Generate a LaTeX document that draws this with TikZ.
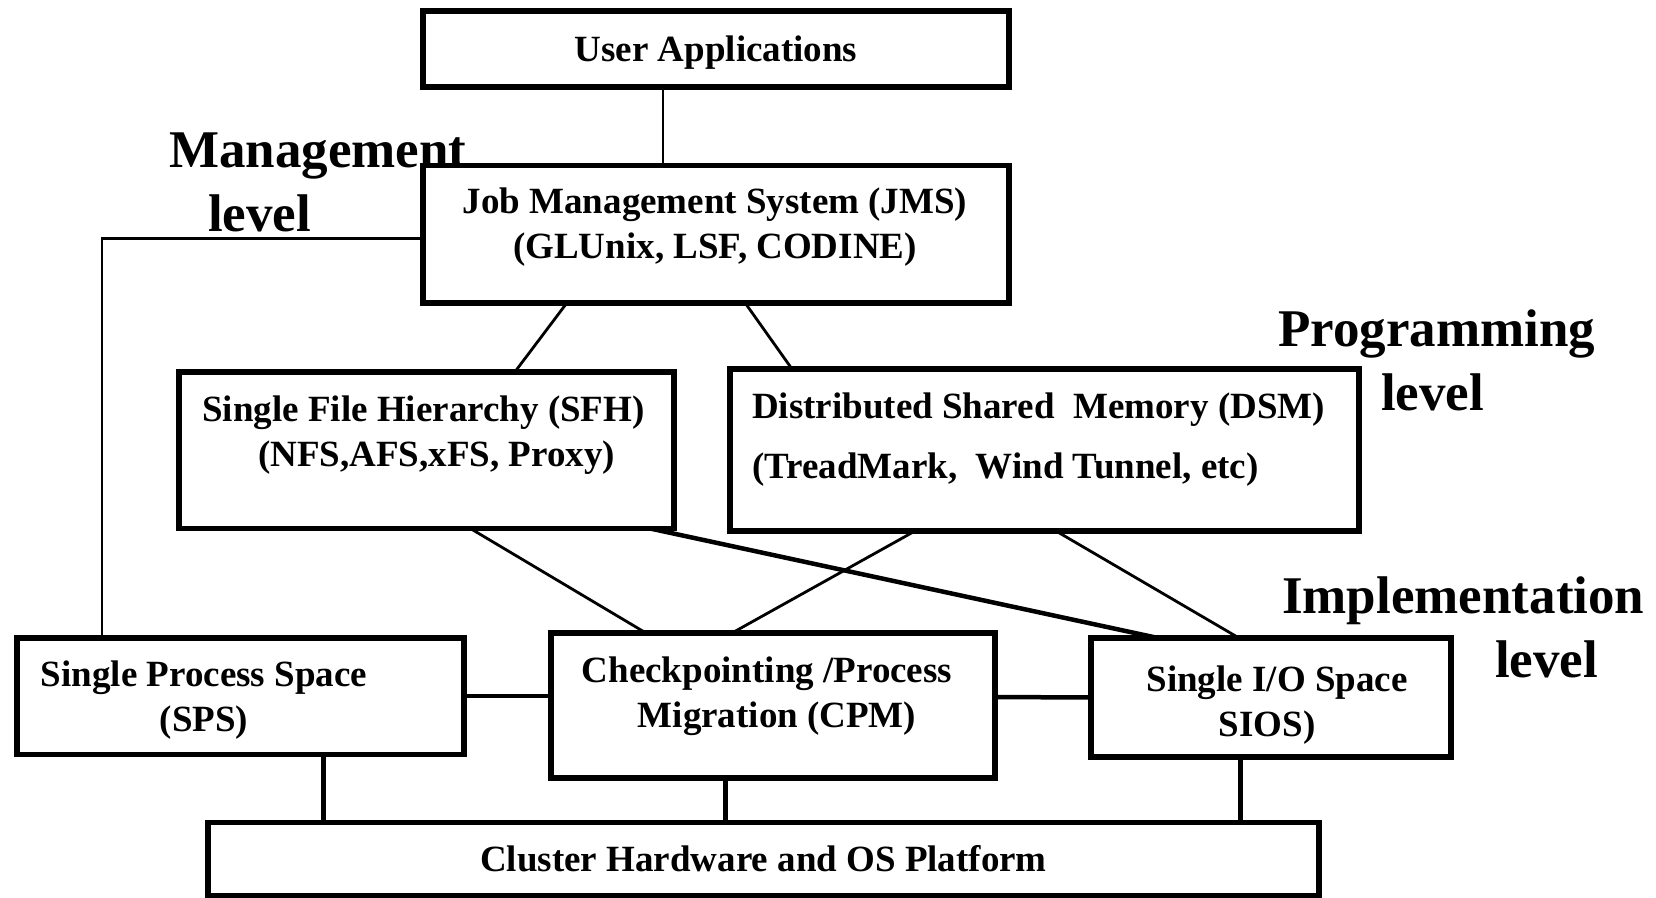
\documentclass[tikz,border=0pt]{standalone}
\usepackage{fontspec}
\setmainfont{Liberation Serif}
\begin{document}
\begin{tikzpicture}[x=1pt,y=-1pt,line join=miter,
	font=\fontsize{37}{45}\selectfont\bfseries,
	box/.style={draw,line width=5.5pt,inner sep=0pt,outer sep=0pt},
	txt/.style={inner sep=0pt,align=center},
	lvl/.style={inner sep=0pt,align=left,anchor=north west,font=\fontsize{53}{64}\selectfont\bfseries},
	lnk/.style={line width=2.8pt},
	lnkb/.style={line width=4.5pt}]
	\useasboundingbox (0,0) rectangle (1656,897);
	% boxes
	\node[box,minimum width=586pt,minimum height=76pt] (ua) at (716,49) {};
	\node[box,minimum width=586pt,minimum height=137.5pt] (jms) at (716,234) {};
	\node[box,minimum width=495pt,minimum height=156.5pt] (sfh) at (426.5,450) {};
	\node[box,minimum width=629pt,minimum height=162pt] (dsm) at (1044.5,450) {};
	\node[box,minimum width=447pt,minimum height=116.5pt] (sps) at (240.5,696) {};
	\node[box,minimum width=444pt,minimum height=145pt] (cpm) at (773,705.5) {};
	\node[box,minimum width=360pt,minimum height=119pt] (sios) at (1271,697.5) {};
	\node[box,minimum width=1111pt,minimum height=73.5pt] (cl) at (763.5,859) {Cluster Hardware and OS Platform};
	% box texts
	\node[txt] (uatxt) at (716,53) {User Applications};
	\node[txt] (jmstxt) at (715,227) {Job Management System (JMS)\\(GLUnix, LSF, CODINE)};
	\node[txt] (sfhtxt) at (423.5,435) {Single File Hierarchy (SFH)\\\hspace*{26pt}(NFS,AFS,xFS, Proxy)};
	\node[txt,align=left,anchor=west,font=\fontsize{37}{60}\selectfont\bfseries] (dsmtxt) at (752,440)
		{Distributed Shared\ \ Memory (DSM)\\(TreadMark,\ \ Wind Tunnel, etc)};
	\node[txt] (spstxt) at (204,700) {Single Process Space\\(SPS)};
	\node[txt] (cpmtxt) at (767,696) {Checkpointing /Process\\\hspace*{20pt}Migration (CPM)};
	\node[txt] (siostxt) at (1277,705) {Single I/O Space\\SIOS)\hspace*{20pt}};
	% levels
	\node[lvl] (mgmt) at (169,133) {Management\\\hspace*{39pt}level};
	\node[lvl] (prog) at (1278,310) {Programming\\\hspace*{103pt}level};
	\node[lvl] (impl) at (1282,577) {Implementation\\\hspace*{213pt}level};
	% connectors
	\draw[lnk] ([xshift=-53pt]ua.south) -- ([xshift=-53pt]jms.north);
	\draw[lnk] ([yshift=-4.5pt]jms.west) -| ([xshift=-138.5pt]sps.north);
	\draw[lnk] ([xshift=-149pt]jms.south) -- ([xshift=88.5pt]sfh.north);
	\draw[lnk] ([xshift=29pt]jms.south) -- ([xshift=-252.5pt]dsm.north);
	\draw[lnk] ([xshift=43.5pt]sfh.south) -- ([xshift=-127pt]cpm.north);
	\draw[lnkb] ([xshift=222.5pt]sfh.south) -- ([xshift=-113pt]sios.north);
	\draw[lnk] ([xshift=-129.5pt]dsm.south) -- ([xshift=-41pt]cpm.north);
	\draw[lnk] ([xshift=11.5pt]dsm.south) -- ([xshift=-32pt]sios.north);
	\draw[lnkb] (sps.east) -- (sps.east -| cpm.west);
	\draw[lnkb] ([yshift=8.5pt]cpm.east) -- (sios.west);
	\draw[line width=5pt] ([xshift=82.5pt]sps.south) -- ([xshift=-440.5pt]cl.north);
	\draw[line width=5pt] ([xshift=-47.5pt]cpm.south) -- ([xshift=-38pt]cl.north);
	\draw[line width=5pt] ([xshift=-31pt]sios.south) -- ([xshift=476.5pt]cl.north);
\end{tikzpicture}
\end{document}
